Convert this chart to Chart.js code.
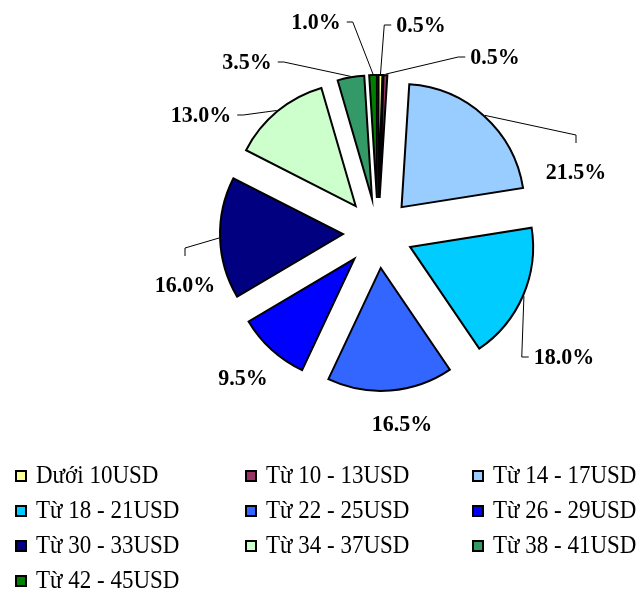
<!DOCTYPE html>
<html>
<head>
<meta charset="utf-8">
<script src="https://cdn.jsdelivr.net/npm/chart.js@4.4.0/dist/chart.umd.min.js"></script>
<style>
    body { margin: 0; background: #fff; }
    #wrap { position: relative; width: 640px; height: 594px; }
    #legend { position: absolute; left: 0; top: 0; width: 640px; height: 594px; font: 23px "Liberation Serif", "Times New Roman", serif; color: #000; }
    .item { position: absolute; white-space: nowrap; height: 24px; line-height: 24px; }
    .item .box { position: absolute; left: 0; top: 6px; width: 8px; height: 8px; border: 2px solid #000; }
    .item .txt { position: absolute; left: 21px; top: 0; transform: scaleY(1.07); transform-origin: left center; }
</style>
</head>
<body>
<div id="wrap">
    <canvas id="chart" width="640" height="594"></canvas>
    <div id="legend"></div>
</div>
<script>
const categories = ["Dưới 10USD", "Từ 10 - 13USD", "Từ 14 - 17USD", "Từ 18 - 21USD", "Từ 22 - 25USD",
    "Từ 26 - 29USD", "Từ 30 - 33USD", "Từ 34 - 37USD", "Từ 38 - 41USD", "Từ 42 - 45USD"];
const shares = [0.5, 0.5, 21.5, 18.0, 16.5, 9.5, 16.0, 13.0, 3.5, 1.0];
const sliceColors = ["#FFFF99", "#993366", "#99CCFF", "#00CCFF", "#3366FF",
    "#0000FF", "#000080", "#CCFFCC", "#339966", "#008000"];

// where each percentage label sits, relative to the pie centre (px)
const labelOffsets = [[43, -208], [117, -176], [198, -61], [186, 124], [24, 191],
    [-135, 145], [-193, 52], [-177, -118], [-131, -171], [-62, -211]];
// which side of the label its leader line ends on (null = no leader)
const leaderSides = ["l", "l", "t", "l", null, null, "t", "r", "r", "r"];

const EXPLODE = 35;
const LABEL_FONT = "bold 22px 'Liberation Serif', 'Times New Roman', serif";

// draws every slice pulled out from the centre, like an exploded Excel pie
const explodePlugin = {
    id: "explode",
    beforeDatasetDraw(chart, args) {
        const ctx = chart.ctx;
        args.meta.data.forEach(arc => {
            const mid = (arc.startAngle + arc.endAngle) / 2;
            ctx.save();
            ctx.translate(Math.cos(mid) * EXPLODE, Math.sin(mid) * EXPLODE);
            arc.draw(ctx);
            ctx.restore();
        });
        return false;
    }
};

const labelPlugin = {
    id: "pieLabels",
    afterDatasetsDraw(chart) {
        const ctx = chart.ctx;
        const meta = chart.getDatasetMeta(0);
        ctx.save();
        ctx.font = LABEL_FONT;
        ctx.textAlign = "center";
        ctx.textBaseline = "middle";
        meta.data.forEach((arc, i) => {
            const mid = (arc.startAngle + arc.endAngle) / 2;
            const text = shares[i].toFixed(1) + "%";
            const cx = arc.x + labelOffsets[i][0];
            const cy = arc.y + labelOffsets[i][1];
            const w = ctx.measureText(text).width;
            const side = leaderSides[i];
            if (side) {
                const r = arc.outerRadius + 1;
                const ax = arc.x + Math.cos(mid) * (EXPLODE + r);
                const ay = arc.y + Math.sin(mid) * (EXPLODE + r);
                let ex, ey, bx, by;
                if (side === "l") {
                    ex = cx - w / 2 - 5; bx = cx - w / 2 - 12; ey = by = cy;
                } else if (side === "r") {
                    ex = cx + w / 2 + 6; bx = cx + w / 2 + 12; ey = by = cy;
                } else {
                    ex = bx = cx; ey = cy - 29; by = cy - 37;
                }
                ctx.beginPath();
                ctx.lineWidth = 1;
                ctx.strokeStyle = "#000";
                ctx.moveTo(ax, ay);
                ctx.lineTo(bx, by);
                ctx.lineTo(ex, ey);
                ctx.stroke();
            }
            ctx.fillStyle = "#000";
            ctx.save();
            ctx.translate(cx, cy + 1);
            ctx.scale(1, 1.08);
            ctx.fillText(text, 0, 0);
            ctx.restore();
        });
        ctx.restore();
    }
};

new Chart(document.getElementById("chart"), {
    type: "pie",
    data: {
        labels: categories,
        datasets: [{
            data: shares,
            backgroundColor: sliceColors,
            borderColor: "#000",
            borderWidth: 2,
            borderJoinStyle: "miter",
            hoverOffset: 0
        }]
    },
    options: {
        responsive: false,
        animation: false,
        events: [],
        radius: 123,
        layout: {padding: {left: 116, right: 0, top: 0, bottom: 128}},
        plugins: {
            legend: {display: false},
            tooltip: {enabled: false}
        }
    },
    plugins: [explodePlugin, labelPlugin]
});

// legend below the pie, three columns like the original
const legendCols = [15, 245, 472];
const legend = document.getElementById("legend");
categories.forEach((name, k) => {
    const item = document.createElement("div");
    item.className = "item";
    item.style.left = legendCols[k % 3] + "px";
    item.style.top = (476 + 35 * Math.floor(k / 3) - 12) + "px";
    item.innerHTML = '<span class="box" style="background:' + sliceColors[k] + '"></span><span class="txt">' + name + '</span>';
    legend.appendChild(item);
});
</script>
</body>
</html>
